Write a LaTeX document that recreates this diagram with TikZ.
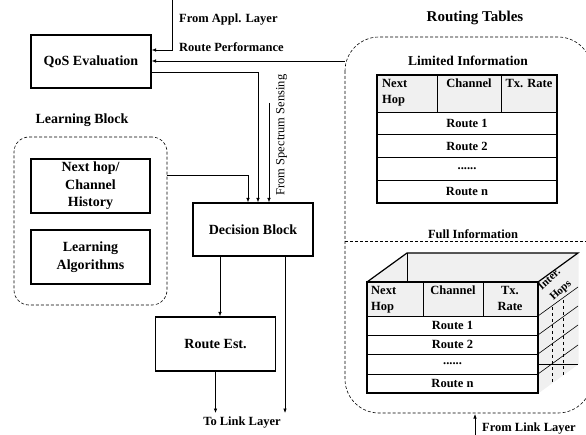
\documentclass[tikz,border=0pt]{standalone}
\usepackage{fontspec}
\setmainfont{Liberation Serif}
\usepackage{xcolor}
\usetikzlibrary{arrows.meta,positioning}
\definecolor{hdrgray}{gray}{0.94}
\newcommand{\rowdots}{......}

\begin{document}
\begin{tikzpicture}[x=1pt,y=-1pt,
	blk/.style={draw,line width=1.2pt,minimum width=120pt,minimum height=53pt,inner sep=1pt,align=center,font=\fontsize{14}{17.5}\selectfont\bfseries},
	lbl/.style={inner sep=1pt,font=\fontsize{12.5}{15}\selectfont\bfseries},
	ttl/.style={inner sep=1pt,font=\fontsize{14}{16}\selectfont\bfseries},
	cell/.style={inner sep=1pt,align=left,font=\fontsize{12.5}{16}\selectfont\bfseries},
	arr/.style={-{Latex[length=4.5pt,width=3.5pt]},line width=0.6pt},
	rgn/.style={draw,dashed,dash pattern=on 3pt off 2pt,line width=0.6pt}]
	\useasboundingbox (0,0) rectangle (586,435);

	% left side: blocks
	\node[blk] (qos) at (91,61.5) {QoS Evaluation};
	\node[blk] (dec) at (253,229.5) {Decision Block};
	\node[blk,minimum height=54pt] (est) at (215.5,344) {Route Est.};
	\node[rgn,rounded corners=15pt,minimum width=153pt,minimum height=168pt] (learn) at (90.5,221) {};
	\node[blk,minimum width=119pt,minimum height=54pt] (hist) at (90.5,186) {Next hop/\\Channel\\History};
	\node[blk,minimum width=119pt,minimum height=54pt] (alg) at (90.5,257) {Learning\\Algorithms};
	\node[ttl] (lbtxt) at (82,120) {Learning Block};

	% labels of the inputs and outputs
	\node[lbl,anchor=west] (appltxt) at (178,20) {From Appl. Layer};
	\node[lbl,anchor=west] (rperftxt) at (178,47) {Route Performance};
	\node[inner sep=1pt,rotate=90,font=\fontsize{12.5}{15}\selectfont] (spectxt) at (281.5,135) {From Spectrum Sensing};
	\node[lbl] (tolinktxt) at (242,423) {To Link Layer};

	\coordinate (appl) at (172,0);
	\coordinate (rperf) at (345,61);
	\coordinate (spec) at (269,103);
	\coordinate (lbout) at (learn.east |- 0,175);
	\coordinate (tolinka) at (215.5,413);
	\coordinate (tolinkb) at (285,413);

	\draw[arr] (appl) |- ([yshift=11.5pt]qos.east);
	\draw[arr] (rperf) -- (qos.east |- rperf);
	\draw[arr] ([yshift=-10.5pt]qos.east) -| ([xshift=5pt]dec.north);
	\draw[arr] (lbout) -| ([xshift=-5pt]dec.north);
	\draw[arr] (spec) -- (spec |- dec.north);
	\draw[arr] ([xshift=4.5pt]est.north |- dec.south) -- ([xshift=4.5pt]est.north);
	\draw[arr] (est.south) -- (tolinka);
	\draw[arr] (tolinkb |- dec.south) -- (tolinkb);

	% routing tables region
	\node[ttl,font=\fontsize{15}{17}\selectfont\bfseries] (rttxt) at (475,18) {Routing Tables};
	\begin{scope}
		\clip (0,0) rectangle (586,435);
		\draw[rgn,rounded corners=34pt] (345,37) rectangle (592,413);
	\end{scope}
	\draw[rgn] (345,241) -- (586,241);

	% limited information table
	\node[ttl,font=\fontsize{13.5}{16}\selectfont\bfseries] (limtxt) at (468,61) {Limited Information};
	\fill[hdrgray] (377,75) rectangle (557,112);
	\foreach \y in {134,157,180} \draw[line width=0.9pt] (377,\y) -- (557,\y);
	\draw[line width=0.9pt] (377,112) -- (557,112);
	\draw[line width=0.9pt] (437,75) -- (437,112) (501,75) -- (501,112);
	\draw[line width=1.4pt] (377,75) rectangle (557,203);
	\node[cell,anchor=north west] (lnext) at (381,78) {Next\\Hop};
	\node[cell,anchor=north] (lchan) at (469,78) {Channel};
	\node[cell,anchor=north] (lrate) at (529,78) {Tx. Rate};
	\foreach \t [count=\i] in {Route 1,Route 2,\rowdots,Route n}
		\node[cell] (lr\i) at (467,100.5+\i*22.75) {\t};

	% full information table (box)
	\node[lbl] (fulltxt) at (473,234) {Full Information};
	\fill[hdrgray,draw,line width=1pt] (538,282) -- (578,253) -- (578,364) -- (538,393) -- cycle;
	\foreach \y in {316,335,354,374} \draw[line width=0.6pt] (538,\y) -- ++(40,-29);
	\draw[line width=0.6pt] (538,364) -- (578,364);
	\draw[dashed,line width=0.6pt] (552,307) -- (552,383);
	\draw[dashed,line width=0.6pt] (563,300) -- (563,377);
	\node[inner sep=0pt,rotate=42,font=\fontsize{11}{13}\selectfont\bfseries] (inter) at (549,279) {Inter.};
	\node[inner sep=0pt,rotate=42,font=\fontsize{11}{13}\selectfont\bfseries] (hops) at (561,291) {Hops};
	\fill[hdrgray] (367,282) -- (407,253) -- (578,253) -- (538,282) -- cycle;
	\draw[line width=1.2pt] (367,282) -- (407,253) -- (578,253) -- (538,282);
	\draw[line width=0.9pt] (407,253) -- (407,282);
	\fill[hdrgray] (367,282) rectangle (538,316);
	\foreach \y in {316,335,354,374} \draw[line width=0.9pt] (367,\y) -- (538,\y);
	\draw[line width=0.9pt] (423,282) -- (423,316) (483,282) -- (483,316);
	\draw[line width=1.4pt] (367,282) rectangle (538,393);
	\node[cell,anchor=north west] (fnext) at (370,285) {Next\\Hop};
	\node[cell,anchor=north] (fchan) at (453,285) {Channel};
	\node[cell,anchor=north,align=center] (frate) at (510,285) {Tx.\\Rate};
	\foreach \t [count=\i] in {Route 1,Route 2,\rowdots,Route n}
		\node[cell] (fr\i) at (452.5,306.4+\i*19.25) {\t};

	\node[lbl,anchor=west] (flinktxt) at (481,429) {From Link Layer};
	\coordinate (flink) at (475,435);
	\coordinate (fbot) at (475,414);
	\draw[arr] (flink) -- (fbot);
\end{tikzpicture}
\end{document}
